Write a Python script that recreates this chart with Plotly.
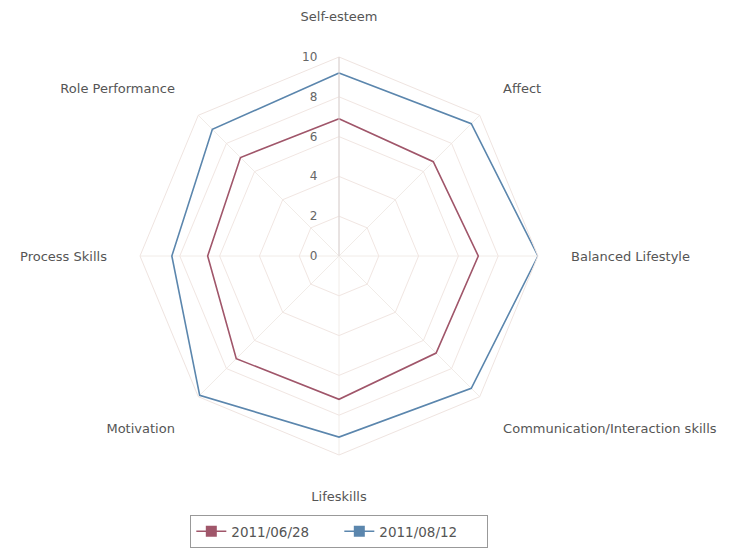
import plotly.graph_objects as go

categories = ["Self-esteem", "Affect", "Balanced Lifestyle",
              "Communication/Interaction skills", "Lifeskills", "Motivation",
              "Process Skills", "Role Performance"]
series_names = ["2011/06/28", "2011/08/12"]
values_0628 = [6.9, 6.7, 7.0, 6.9, 7.2, 7.3, 6.6, 7.0]
values_0812 = [9.2, 9.4, 10.0, 9.4, 9.1, 9.9, 8.4, 9.0]
radial_ticks = [0, 2, 4, 6, 8, 10]

colors = ["#a0566a", "#5b86ad"]

fig = go.Figure()
for name, vals, col in zip(series_names, [values_0628, values_0812], colors):
    fig.add_trace(go.Scatterpolar(
        r=vals + vals[:1],
        theta=categories + categories[:1],
        name=name,
        mode="lines",
        line=dict(color=col, width=1.6),
        showlegend=False,
    ))
    # legend entry (line with square marker)
    fig.add_trace(go.Scatterpolar(
        r=[None], theta=[categories[0]],
        name=name,
        mode="lines+markers",
        line=dict(color=col, width=1.6),
        marker=dict(symbol="square", size=11, color=col),
        showlegend=True,
    ))

W, H = 733, 552
cx, cy, R = 331, 248, 199
fig.update_layout(
    width=W, height=H,
    margin=dict(l=0, r=0, t=0, b=0),
    paper_bgcolor="white",
    plot_bgcolor="white",
    font=dict(family="DejaVu Sans", size=13, color="#555555"),
    showlegend=True,
    legend=dict(orientation="h", x=0.452, xanchor="center",
                y=(H - 507) / H, yanchor="top",
                bordercolor="#999999", borderwidth=1,
                font=dict(size=13.5, color="#555555"),
                entrywidth=103, entrywidthmode="pixels",
                tracegroupgap=0),
    polar=dict(
        domain=dict(x=[(cx - R) / W, (cx + R) / W],
                    y=[(H - cy - R) / H, (H - cy + R) / H]),
        gridshape="linear",
        bgcolor="white",
        radialaxis=dict(range=[0, 10], tickvals=radial_ticks, angle=90,
                        side="counterclockwise", showline=True,
                        linecolor="#d8d0d0", linewidth=1,
                        gridcolor="#f1e6e2", gridwidth=1,
                        tickfont=dict(size=12, color="#666666"),
                        ticks="outside", ticklen=17,
                        tickcolor="rgba(0,0,0,0)", tickangle=90),
        angularaxis=dict(rotation=90, direction="clockwise",
                         showline=True, linecolor="#efe4e0",
                         gridcolor="#f1ece8",
                         ticks="outside", ticklen=30, tickcolor="rgba(0,0,0,0)",
                         tickfont=dict(size=13, color="#555555")),
    ),
)

fig.write_html("out.html")
